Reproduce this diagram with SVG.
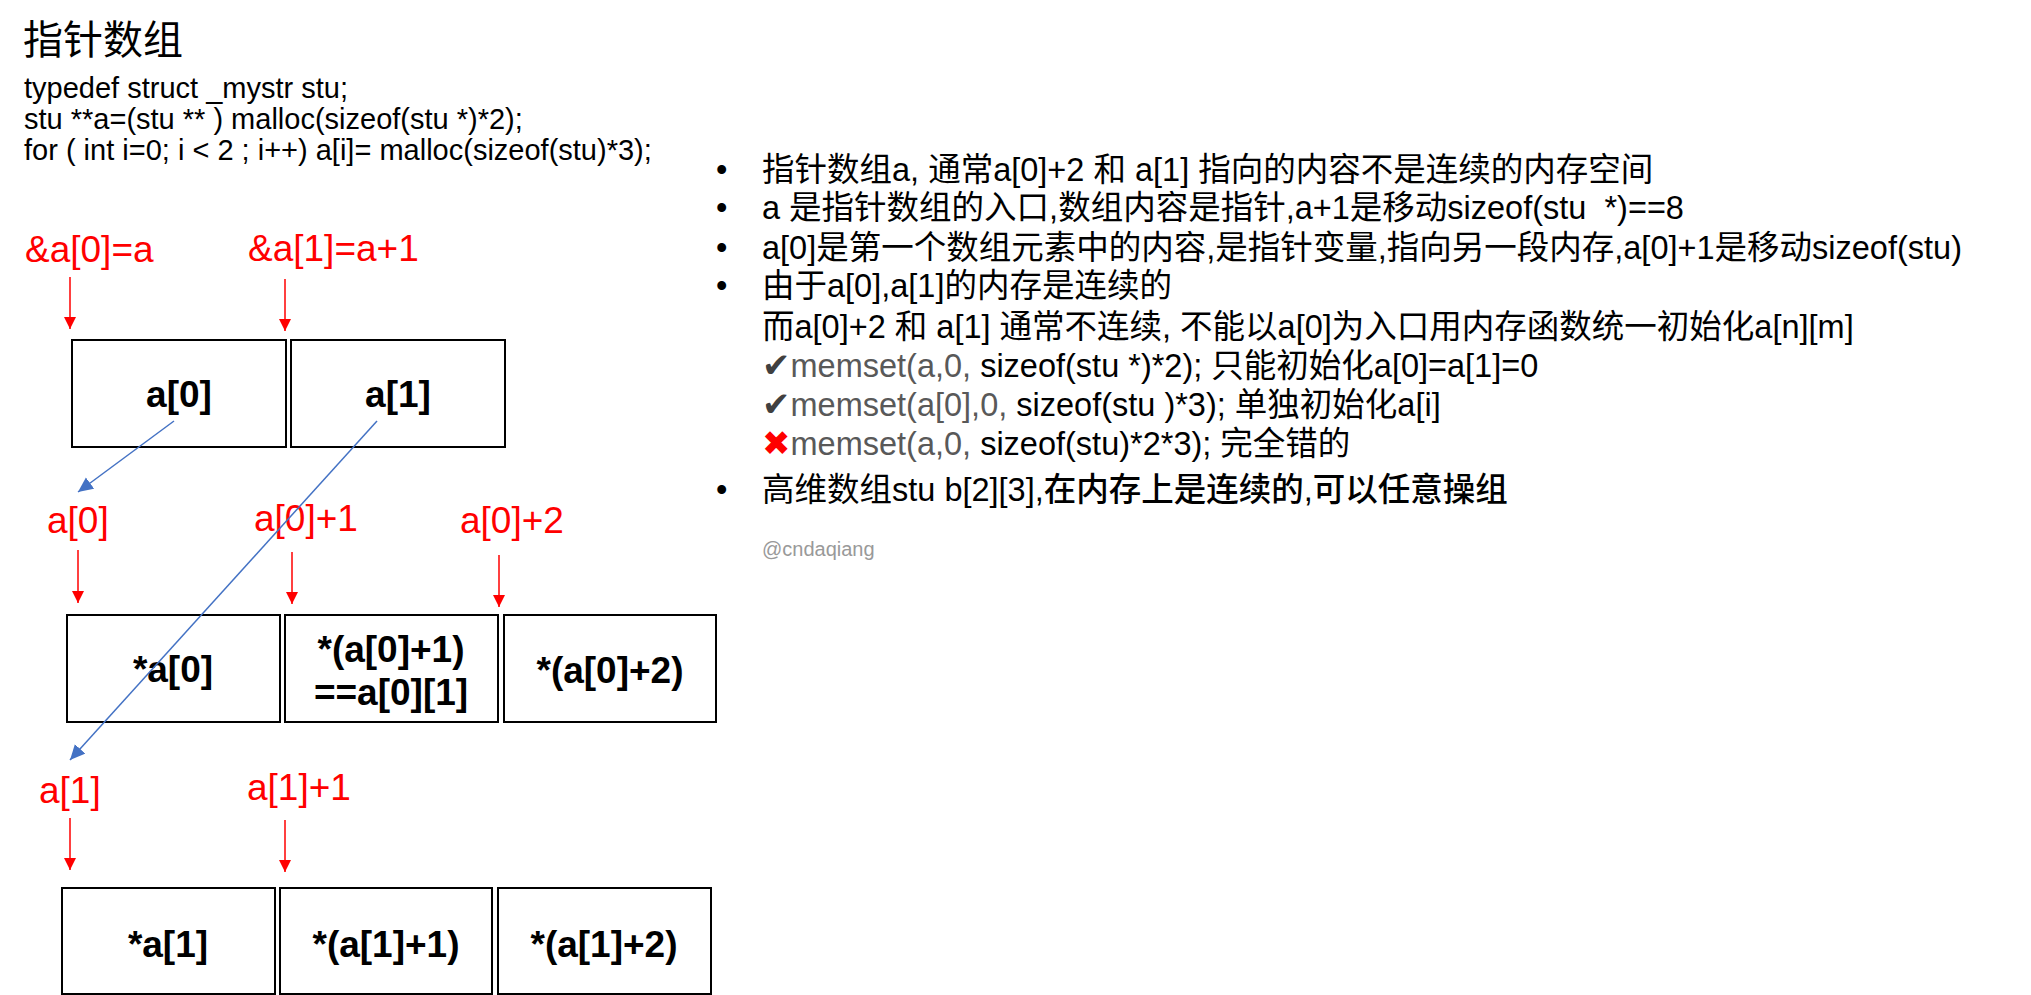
<svg xmlns="http://www.w3.org/2000/svg" width="2031" height="995" viewBox="0 0 2031 995">
<style>
text{font-family:"Liberation Sans","Noto Sans CJK SC",sans-serif;white-space:pre}
.title{font-size:40px;fill:#000}
.code{font-size:29px;fill:#000}
.lbl{font-size:37px;fill:#ff0000}
.box rect{fill:#fff;stroke:#000;stroke-width:2}
.box text{font-size:37px;font-weight:bold;fill:#000;text-anchor:middle}
.rt{font-size:32.5px;fill:#000}
.gr{fill:#595959}
.ck{fill:#404040;font-family:"DejaVu Sans",sans-serif;font-weight:bold;font-size:34px}
.cx{fill:#ff0000;font-family:"DejaVu Sans",sans-serif;font-weight:bold;font-size:34px}
.red{stroke:#ff0000;stroke-width:1.5;fill:none}
.blue{stroke:#4472c4;stroke-width:1.5;fill:none}
</style>
<defs>
<marker id="ar" markerUnits="userSpaceOnUse" markerWidth="12" markerHeight="12" refX="12" refY="6" orient="auto">
<path d="M0,0 L12,6 L0,12 z" fill="#ff0000"/>
</marker>
<marker id="ab" markerUnits="userSpaceOnUse" markerWidth="16" markerHeight="16" refX="15" refY="7" orient="auto">
<path d="M0,0 L15,7 L0,14 z" fill="#4472c4"/>
</marker>
</defs>
<rect width="2031" height="995" fill="#fff"/>

<g id="header">
<text class="title" x="23" y="54">指针数组</text>
<text class="code" x="24" y="98">typedef struct _mystr stu;</text>
<text class="code" x="24" y="129">stu **a=(stu ** ) malloc(sizeof(stu *)*2);</text>
<text class="code" x="24" y="160">for ( int i=0; i &lt; 2 ; i++) a[i]= malloc(sizeof(stu)*3);</text>
</g>

<g id="labels">
<text class="lbl" x="25" y="262">&amp;a[0]=a</text>
<text class="lbl" x="248" y="261">&amp;a[1]=a+1</text>
<text class="lbl" x="47" y="533">a[0]</text>
<text class="lbl" x="254" y="531">a[0]+1</text>
<text class="lbl" x="460" y="533">a[0]+2</text>
<text class="lbl" x="39" y="803">a[1]</text>
<text class="lbl" x="247" y="800">a[1]+1</text>
</g>

<g id="box-a0" class="box"><rect x="72" y="340" width="214" height="107"/><text x="179" y="407">a[0]</text></g>
<g id="box-a1" class="box"><rect x="291" y="340" width="214" height="107"/><text x="398" y="407">a[1]</text></g>

<g id="box-a00" class="box"><rect x="67" y="615" width="213" height="107"/><text x="173" y="682">*a[0]</text></g>
<g id="box-a01" class="box"><rect x="285" y="615" width="213" height="107"/><text x="391" y="662">*(a[0]+1)</text><text x="391" y="705">==a[0][1]</text></g>
<g id="box-a02" class="box"><rect x="504" y="615" width="212" height="107"/><text x="610" y="683">*(a[0]+2)</text></g>

<g id="box-a10" class="box"><rect x="62" y="888" width="213" height="106"/><text x="168" y="957">*a[1]</text></g>
<g id="box-a11" class="box"><rect x="280" y="888" width="212" height="106"/><text x="386" y="957">*(a[1]+1)</text></g>
<g id="box-a12" class="box"><rect x="498" y="888" width="213" height="106"/><text x="604" y="957">*(a[1]+2)</text></g>

<g id="connectors">
<line class="red" x1="70" y1="277" x2="70" y2="329" marker-end="url(#ar)"/>
<line class="red" x1="285" y1="279" x2="285" y2="331" marker-end="url(#ar)"/>
<line class="red" x1="78" y1="550" x2="78" y2="603" marker-end="url(#ar)"/>
<line class="red" x1="292" y1="552" x2="292" y2="604" marker-end="url(#ar)"/>
<line class="red" x1="499" y1="555" x2="499" y2="607" marker-end="url(#ar)"/>
<line class="red" x1="70" y1="818" x2="70" y2="870" marker-end="url(#ar)"/>
<line class="red" x1="285" y1="820" x2="285" y2="872" marker-end="url(#ar)"/>
<line class="blue" x1="174" y1="421" x2="78" y2="492" marker-end="url(#ab)"/>
<line class="blue" x1="377" y1="421" x2="70" y2="760" marker-end="url(#ab)"/>
</g>

<g id="notes">
<text class="rt" x="716" y="181">•</text>
<text class="rt" x="762" y="181">指针数组a, 通常a[0]+2 和 a[1] 指向的内容不是连续的内存空间</text>
<text class="rt" x="716" y="219">•</text>
<text class="rt" x="762" y="219">a 是指针数组的入口,数组内容是指针,a+1是移动sizeof(stu  *)==8</text>
<text class="rt" x="716" y="259">•</text>
<text class="rt" x="762" y="259">a[0]是第一个数组元素中的内容,是指针变量,指向另一段内存,a[0]+1是移动sizeof(stu)</text>
<text class="rt" x="716" y="297">•</text>
<text class="rt" x="762" y="297">由于a[0],a[1]的内存是连续的</text>
<text class="rt" x="762" y="338">而a[0]+2 和 a[1] 通常不连续, 不能以a[0]为入口用内存函数统一初始化a[n][m]</text>
<text class="rt" x="762" y="377"><tspan class="ck">✔</tspan><tspan class="gr">memset(a,0,</tspan> sizeof(stu *)*2); 只能初始化a[0]=a[1]=0</text>
<text class="rt" x="762" y="416"><tspan class="ck">✔</tspan><tspan class="gr">memset(a[0],0,</tspan> sizeof(stu )*3); 单独初始化a[i]</text>
<text class="rt" x="762" y="455"><tspan class="cx">✖</tspan><tspan class="gr">memset(a,0,</tspan> sizeof(stu)*2*3); 完全错的</text>
<text class="rt" x="716" y="501">•</text>
<text class="rt" x="762" y="501">高维数组stu b[2][3],<tspan font-weight="500">在内存上是连续的,可以任意操组</tspan></text>
<text x="762" y="556" style="font-size:20px;fill:#999">@cndaqiang</text>
</g>
</svg>
